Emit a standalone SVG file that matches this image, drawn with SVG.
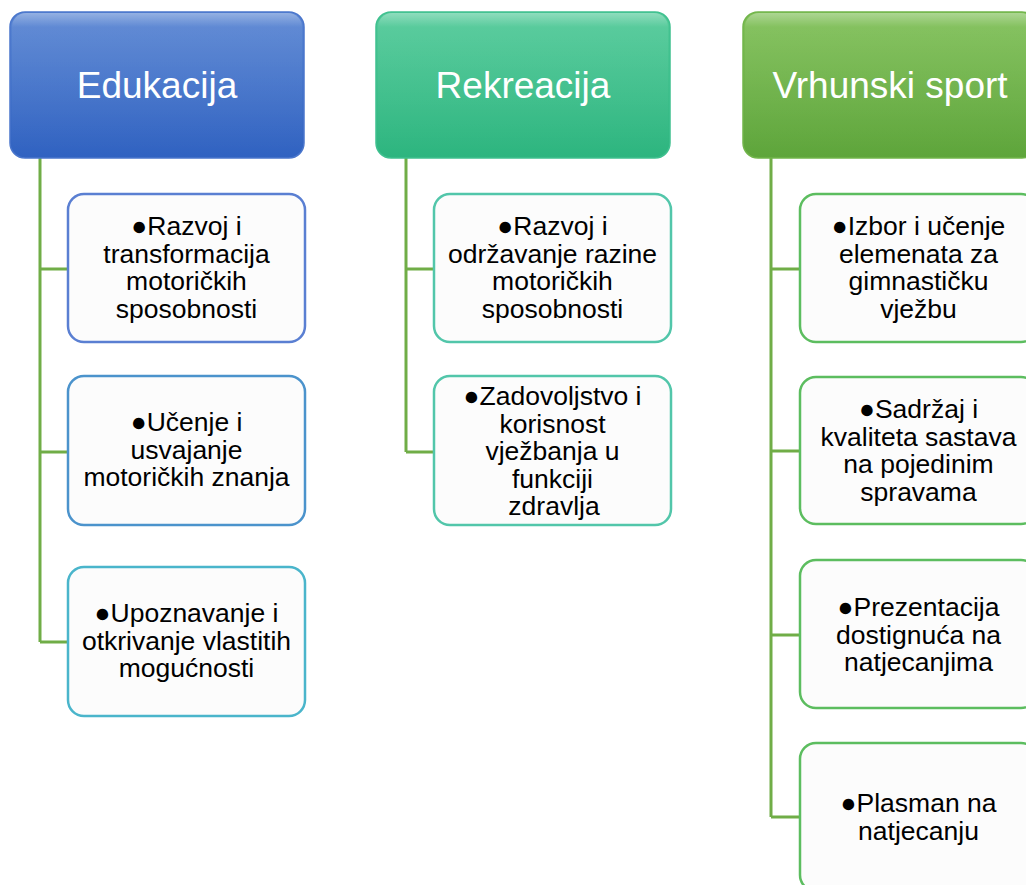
<svg xmlns="http://www.w3.org/2000/svg" width="1026" height="885" viewBox="0 0 1026 885">
<defs>
<linearGradient id="gBlue" x1="0" y1="0" x2="0" y2="1">
<stop offset="0" stop-color="#5a86d3"/><stop offset="1" stop-color="#3062c1"/>
</linearGradient>
<linearGradient id="gTeal" x1="0" y1="0" x2="0" y2="1">
<stop offset="0" stop-color="#52ca99"/><stop offset="1" stop-color="#2db57f"/>
</linearGradient>
<linearGradient id="gGreen" x1="0" y1="0" x2="0" y2="1">
<stop offset="0" stop-color="#80c058"/><stop offset="1" stop-color="#5ea53b"/>
</linearGradient>
<linearGradient id="gShine" x1="0" y1="0" x2="0" y2="1">
<stop offset="0" stop-color="#ffffff" stop-opacity="0.35"/><stop offset="0.1" stop-color="#ffffff" stop-opacity="0.06"/><stop offset="1" stop-color="#ffffff" stop-opacity="0"/>
</linearGradient>
</defs>
<style>
.hdr{stroke-width:1.5}
.shine{fill:url(#gShine)}
.htxt{font-family:"Liberation Sans",Arial,sans-serif;font-size:37px;fill:#ffffff;text-anchor:middle}
.box{fill:#fcfcfc;stroke-width:2.5}
.btxt{font-family:"Liberation Sans",Arial,sans-serif;font-size:26.5px;fill:#000000;text-anchor:middle}
.conn{fill:none;stroke:#70ad47;stroke-width:3}
</style>

<g id="connectors">
<path class="conn" d="M40,158 V642 M40,269 H68 M40,452 H68 M40,642 H68"/>
<path class="conn" d="M406,158 V452 M406,269 H434 M406,452 H434"/>
<path class="conn" d="M771,158 V817 M771,269 H800 M771,451 H800 M771,635 H800 M771,817 H800"/>
</g>

<g id="hdr-edukacija">
<rect class="hdr" x="10" y="12" width="294" height="146" rx="15" fill="url(#gBlue)" stroke="#4a76cc"/>
<rect class="shine" x="12" y="13" width="290" height="140" rx="14"/>
<text class="htxt" x="157" y="98">Edukacija</text>
</g>
<g id="hdr-rekreacija">
<rect class="hdr" x="376" y="12" width="294" height="146" rx="15" fill="url(#gTeal)" stroke="#3fc08f"/>
<rect class="shine" x="378" y="13" width="290" height="140" rx="14"/>
<text class="htxt" x="523" y="98">Rekreacija</text>
</g>
<g id="hdr-vrhunski">
<rect class="hdr" x="743" y="12" width="294" height="146" rx="15" fill="url(#gGreen)" stroke="#72b54b"/>
<rect class="shine" x="745" y="13" width="290" height="140" rx="14"/>
<text class="htxt" x="890" y="98">Vrhunski sport</text>
</g>

<g id="edu-1">
<rect class="box" x="68" y="194" width="237" height="148" rx="16" stroke="#5a7fd2"/>
<text class="btxt"><tspan x="186.5" y="235">●Razvoj i</tspan><tspan x="186.5" y="262.5">transformacija</tspan><tspan x="186.5" y="290">motoričkih</tspan><tspan x="186.5" y="317.5">sposobnosti</tspan></text>
</g>
<g id="edu-2">
<rect class="box" x="68" y="376" width="237" height="149" rx="16" stroke="#4b93cc"/>
<text class="btxt"><tspan x="186.5" y="431">●Učenje i</tspan><tspan x="186.5" y="458.5">usvajanje</tspan><tspan x="186.5" y="486">motoričkih znanja</tspan></text>
</g>
<g id="edu-3">
<rect class="box" x="68" y="567" width="237" height="149" rx="16" stroke="#4ab5cb"/>
<text class="btxt"><tspan x="186.5" y="622">●Upoznavanje i</tspan><tspan x="186.5" y="649.5">otkrivanje vlastitih</tspan><tspan x="186.5" y="677">mogućnosti</tspan></text>
</g>

<g id="rek-1">
<rect class="box" x="434" y="194" width="237" height="148" rx="16" stroke="#52c6aa"/>
<text class="btxt"><tspan x="552.5" y="235">●Razvoj i</tspan><tspan x="552.5" y="262.5">održavanje razine</tspan><tspan x="552.5" y="290">motoričkih</tspan><tspan x="552.5" y="317.5">sposobnosti</tspan></text>
</g>
<g id="rek-2">
<rect class="box" x="434" y="376" width="237" height="149" rx="16" stroke="#52c6aa"/>
<text class="btxt"><tspan x="552.5" y="405">●Zadovoljstvo i</tspan><tspan x="552.5" y="432.5">korisnost</tspan><tspan x="552.5" y="460">vježbanja u</tspan><tspan x="552.5" y="487.5">funkciji</tspan><tspan x="554" y="515">zdravlja</tspan></text>
</g>

<g id="vrh-1">
<rect class="box" x="800" y="194" width="237" height="148" rx="16" stroke="#5cbd5f"/>
<text class="btxt"><tspan x="918.5" y="235">●Izbor i učenje</tspan><tspan x="918.5" y="262.5">elemenata za</tspan><tspan x="918.5" y="290">gimnastičku</tspan><tspan x="918.5" y="317.5">vježbu</tspan></text>
</g>
<g id="vrh-2">
<rect class="box" x="800" y="377" width="237" height="147" rx="16" stroke="#5cbd5f"/>
<text class="btxt"><tspan x="918.5" y="418">●Sadržaj i</tspan><tspan x="918.5" y="445.5">kvaliteta sastava</tspan><tspan x="918.5" y="473">na pojedinim</tspan><tspan x="918.5" y="500.5">spravama</tspan></text>
</g>
<g id="vrh-3">
<rect class="box" x="800" y="560" width="237" height="148" rx="16" stroke="#5cbd5f"/>
<text class="btxt"><tspan x="918.5" y="616">●Prezentacija</tspan><tspan x="918.5" y="643.5">dostignuća na</tspan><tspan x="918.5" y="671">natjecanjima</tspan></text>
</g>
<g id="vrh-4">
<rect class="box" x="800" y="743" width="237" height="148" rx="16" stroke="#5cbd5f"/>
<text class="btxt"><tspan x="918.5" y="812">●Plasman na</tspan><tspan x="918.5" y="839.5">natjecanju</tspan></text>
</g>
</svg>
